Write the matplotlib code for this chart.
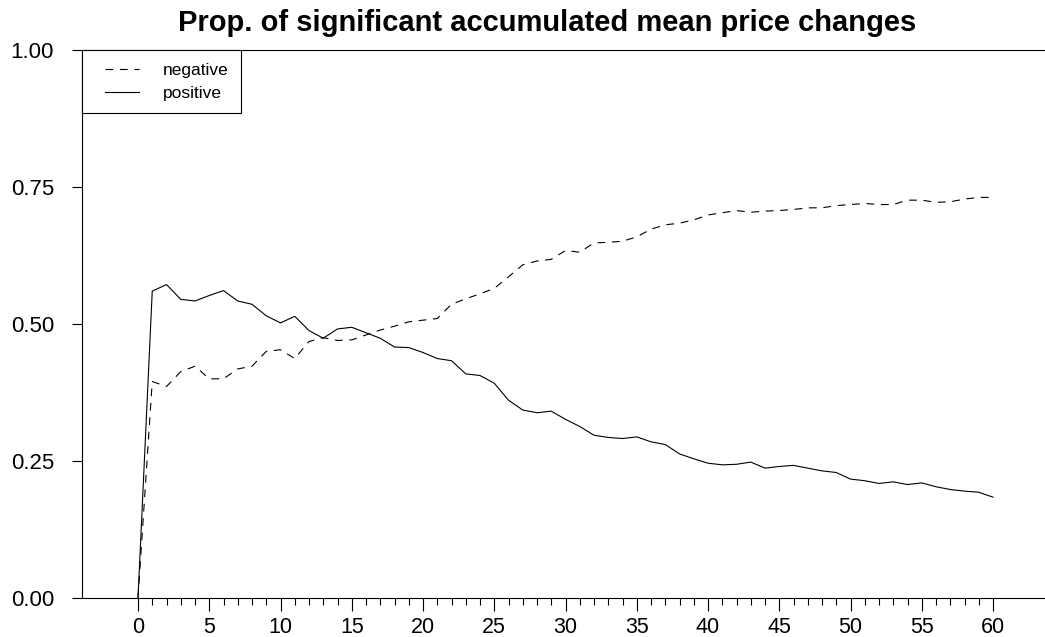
import matplotlib

matplotlib.use("Agg")
import matplotlib.pyplot as plt
from matplotlib.legend_handler import HandlerLine2D
from matplotlib.ticker import FixedLocator


LAGS = list(range(0, 61))
NEGATIVE = [
    0.000, 0.395, 0.386, 0.413, 0.423, 0.400, 0.400, 0.418, 0.423, 0.450,
    0.453, 0.437, 0.468, 0.475, 0.470, 0.471, 0.480, 0.489, 0.496, 0.504,
    0.507, 0.510, 0.536, 0.546, 0.555, 0.565, 0.586, 0.608, 0.615, 0.618,
    0.634, 0.631, 0.648, 0.649, 0.651, 0.659, 0.673, 0.681, 0.684, 0.690,
    0.699, 0.703, 0.707, 0.704, 0.706, 0.707, 0.709, 0.712, 0.712, 0.716,
    0.718, 0.720, 0.718, 0.718, 0.726, 0.726, 0.722, 0.723, 0.728, 0.731,
    0.731,
]
POSITIVE = [
    0.000, 0.560, 0.572, 0.545, 0.542, 0.552, 0.561, 0.542, 0.536, 0.515,
    0.502, 0.514, 0.488, 0.474, 0.491, 0.494, 0.484, 0.474, 0.458, 0.457,
    0.448, 0.437, 0.433, 0.409, 0.406, 0.392, 0.361, 0.343, 0.338, 0.341,
    0.326, 0.313, 0.297, 0.293, 0.291, 0.294, 0.285, 0.280, 0.263, 0.254,
    0.246, 0.243, 0.244, 0.248, 0.237, 0.240, 0.242, 0.237, 0.232, 0.229,
    0.217, 0.214, 0.209, 0.212, 0.207, 0.210, 0.203, 0.198, 0.195, 0.193,
    0.184,
]
X_MAJOR = list(range(0, 61, 5))
X_MINOR = [i for i in range(1, 60) if i % 5]
Y_TICKS = [0.0, 0.25, 0.5, 0.75, 1.0]
TITLE = "Prop. of significant accumulated mean price changes"


def main() -> None:
    plt.rcParams["font.family"] = ["Liberation Sans", "DejaVu Sans"]
    W, H = 1045, 637
    fig = plt.figure(figsize=(W / 100, H / 100), dpi=100)
    ax = fig.add_axes([82 / W, 1 - 598 / H, (W - 82) / W, (598 - 50) / H])

    neg_line, = ax.plot(LAGS, NEGATIVE, color="black", lw=0.8, dashes=(7, 6), label="negative")
    pos_line, = ax.plot(LAGS, POSITIVE, color="black", lw=0.8, label="positive")

    ax.set_xlim(-56 / 14.25, 907 / 14.25)
    ax.set_ylim(0, 1)
    ax.xaxis.set_major_locator(FixedLocator(X_MAJOR))
    ax.xaxis.set_minor_locator(FixedLocator(X_MINOR))
    ax.set_yticks(Y_TICKS)
    ax.set_yticklabels([f"{v:.2f}" for v in Y_TICKS])
    ax.tick_params(axis="x", which="major", length=9, width=0.8, pad=5, labelsize=15.5)
    ax.tick_params(axis="x", which="minor", length=5, width=0.8)
    ax.tick_params(axis="y", length=7.2, width=0.8, pad=13, labelsize=16)

    ax.spines["right"].set_visible(False)
    for side in ("left", "top", "bottom"):
        ax.spines[side].set_linewidth(0.8)

    handler = HandlerLine2D(xpad=0.6)
    leg = ax.legend(
        loc="upper left",
        bbox_to_anchor=(0, 1),
        borderaxespad=0,
        fancybox=False,
        edgecolor="black",
        framealpha=1,
        fontsize=12.5,
        handlelength=2.56,
        handletextpad=1.38,
        labelspacing=0.45,
        borderpad=0.72,
        handler_map={neg_line: handler, pos_line: handler},
    )
    leg.get_frame().set_linewidth(0.8)

    fig.text(547 / W, 1 - 31 / H, TITLE, ha="center", va="baseline",
             fontsize=21, fontweight="bold")

    fig.savefig("out.png", dpi=100)
    plt.close(fig)


if __name__ == "__main__":
    main()
